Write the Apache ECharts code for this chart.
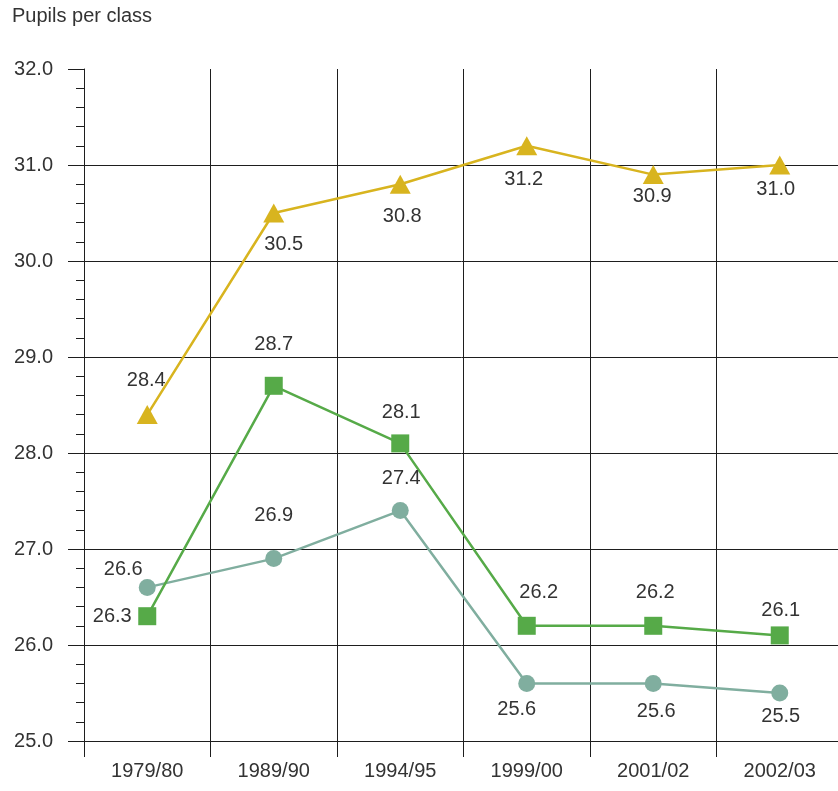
<!DOCTYPE html>
<html>
<head>
<meta charset="utf-8">
<title>Pupils per class</title>
<script src="https://cdn.jsdelivr.net/npm/echarts@6/dist/echarts.min.js"></script>
<style>
  html, body { margin: 0; padding: 0; background: #fff; }
  #chart { width: 838px; height: 791px; }
</style>
</head>
<body>
<div id="chart"></div>
<script>
// School years on the category axis
const years = ['1979/80', '1989/90', '1994/95', '1999/00', '2001/02', '2002/03'];

// Average pupils per class, three series
const triangleSeries = [28.4, 30.5, 30.8, 31.2, 30.9, 31.0];
const squareSeries   = [26.3, 28.7, 28.1, 26.2, 26.2, 26.1];
const circleSeries   = [26.6, 26.9, 27.4, 25.6, 25.6, 25.5];

// Y axis range and step
const yMin = 25, yMax = 32, yStep = 1;

// Where each value label sits relative to its marker (dx, dy in px)
const triangleLabelShift = [[-1, -34], [10, 31], [2, 32], [-3, 34], [-1, 22], [-4, 24]];
const squareLabelShift   = [[-35, 0], [0, -41], [1, -31], [12, -33], [2, -33], [1, -25]];
const circleLabelShift   = [[-24, -18], [0, -43], [1, -32], [-10, 26], [3, 28], [1, 23]];

const FONT = '"Liberation Sans", Arial, sans-serif';
const TEXT = '#333333';
const INK = '#1e1e1e';

function withLabels(values, shifts) {
  return values.map((v, i) => ({
    value: v,
    label: { offset: shifts[i] }
  }));
}

function lineSeries(name, values, shifts, color, symbol, size) {
  return {
    name: name,
    type: 'line',
    data: withLabels(values, shifts),
    symbol: symbol,
    symbolSize: size,
    showAllSymbol: true,
    lineStyle: { color: color, width: 2.5 },
    itemStyle: { color: color },
    label: {
      show: true,
      position: 'inside',
      color: TEXT,
      fontFamily: FONT,
      fontSize: 20,
      formatter: p => p.value.toFixed(1)
    },
    emphasis: { disabled: true },
    animation: false
  };
}

const chart = echarts.init(document.getElementById('chart'), null, { renderer: 'canvas' });

chart.setOption({
  backgroundColor: '#ffffff',
  animation: false,
  title: {
    text: 'Pupils per class',
    left: 12,
    top: 6,
    padding: 0,
    textStyle: { fontFamily: FONT, fontSize: 20, fontWeight: 'normal', color: TEXT }
  },
  grid: {
    left: 84,
    top: 69,
    width: 759,
    bottom: 50,
    outerBoundsMode: 'none'
  },
  xAxis: {
    type: 'category',
    data: years,
    boundaryGap: true,
    axisLine: { show: true, lineStyle: { color: INK, width: 1 } },
    axisTick: { show: true, length: 16, interval: 0, lineStyle: { color: INK, width: 1 } },
    axisLabel: { interval: 0, margin: 20, color: TEXT, fontFamily: FONT, fontSize: 20 },
    splitLine: { show: true, interval: 0, lineStyle: { color: INK, width: 1 } }
  },
  yAxis: {
    type: 'value',
    min: yMin,
    max: yMax,
    interval: yStep,
    axisLine: { show: true, lineStyle: { color: INK, width: 1 } },
    axisTick: { show: true, length: 16, lineStyle: { color: INK, width: 1 } },
    minorTick: { show: true, splitNumber: 5, length: 8, lineStyle: { color: INK, width: 1 } },
    axisLabel: {
      margin: 31,
      color: TEXT,
      fontFamily: FONT,
      fontSize: 20,
      formatter: v => v.toFixed(1)
    },
    splitLine: { show: true, showMaxLine: false, lineStyle: { color: INK, width: 1 } }
  },
  series: [
    lineSeries('Circle', circleSeries, circleLabelShift, '#80ae9f', 'circle', 17),
    lineSeries('Square', squareSeries, squareLabelShift, '#56aa48', 'rect', 18),
    lineSeries('Triangle', triangleSeries, triangleLabelShift, '#d8b41f', 'triangle', [21, 19])
  ]
});
</script>
</body>
</html>
